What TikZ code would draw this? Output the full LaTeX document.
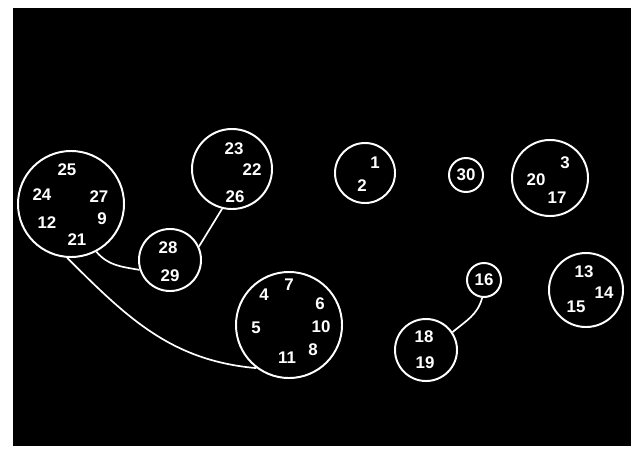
\documentclass[tikz,border=0pt]{standalone}
\usepackage{fontspec}
\setmainfont{Liberation Sans}
\usetikzlibrary{positioning}
\tikzset{
    ring/.style={
        circle, draw=white, line width=1.4pt,
        minimum size=#1*0.05cm, inner sep=0pt,
    },
    num/.style={
        text=white, inner sep=0pt,
        font=\fontsize{12}{14}\selectfont\bfseries,
    },
    wire/.style={
        draw=white, line width=1.2pt,
    },
}

\begin{document}
\begin{tikzpicture}[x=0.025cm, y=0.025cm]

    % ── Frame ──
    \useasboundingbox (0,0) rectangle (635,450);
    \fill[white] (0,0) rectangle (635,450);
    \fill[black] (13,4) rectangle (631,442);

    % ── Rings ──
    \node[ring=53] (big)   at (71,246)  {};
    \node[ring=40] (g23)   at (232,281) {};
    \node[ring=31] (g28)   at (170,190) {};
    \node[ring=53] (clock) at (289,125) {};
    \node[ring=30] (g1)    at (365,277) {};
    \node[ring=17] (g30)   at (466,275) {};
    \node[ring=38] (g20)   at (550,272) {};
    \node[ring=17] (g16)   at (484,170) {};
    \node[ring=31] (g18)   at (426,100) {};
    \node[ring=37] (g13)   at (586,160) {};

    % ── Numbers: big ring ──
    \node[num] (n25) at (67,280)  {25};
    \node[num] (n24) at (42,255)  {24};
    \node[num] (n27) at (99,253)  {27};
    \node[num] (n12) at (47,227)  {12};
    \node[num] (n9)  at (102,231) {9};
    \node[num] (n21) at (77,210)  {21};

    % ── Numbers: upper left rings ──
    \node[num] (n23) at (234,301) {23};
    \node[num] (n22) at (252,280) {22};
    \node[num] (n26) at (235,253) {26};
    \node[num] (n28) at (168,202) {28};
    \node[num] (n29) at (170,174) {29};

    % ── Numbers: clock ring ──
    \node[num] (n7)  at (289,165) {7};
    \node[num] (n4)  at (264,155) {4};
    \node[num] (n6)  at (320,146) {6};
    \node[num] (n5)  at (256,122) {5};
    \node[num] (n10) at (321,123) {10};
    \node[num] (n8)  at (313,100) {8};
    \node[num] (n11) at (287,92)  {11};

    % ── Numbers: right rings ──
    \node[num] (n1)  at (375,287) {1};
    \node[num] (n2)  at (362,264) {2};
    \node[num] (n30) at (466,275) {30};
    \node[num] (n3)  at (565,287) {3};
    \node[num] (n20) at (536,270) {20};
    \node[num] (n17) at (557,252) {17};
    \node[num] (n16) at (484,170) {16};
    \node[num] (n18) at (424,113) {18};
    \node[num] (n19) at (425,87)  {19};
    \node[num] (n13) at (584,178) {13};
    \node[num] (n14) at (604,157) {14};
    \node[num] (n15) at (576,143) {15};

    % ── Links ──
    \draw[wire] (big.266) to[out=-45, in=175] (clock.233);
    \draw[wire] (big.298) to[out=-50, in=170] (g28.198);
    \draw[wire] (g23.256) -- (g28.25);
    \draw[wire] (g16.264) to[out=-105, in=40] (g18.34);

\end{tikzpicture}
\end{document}
